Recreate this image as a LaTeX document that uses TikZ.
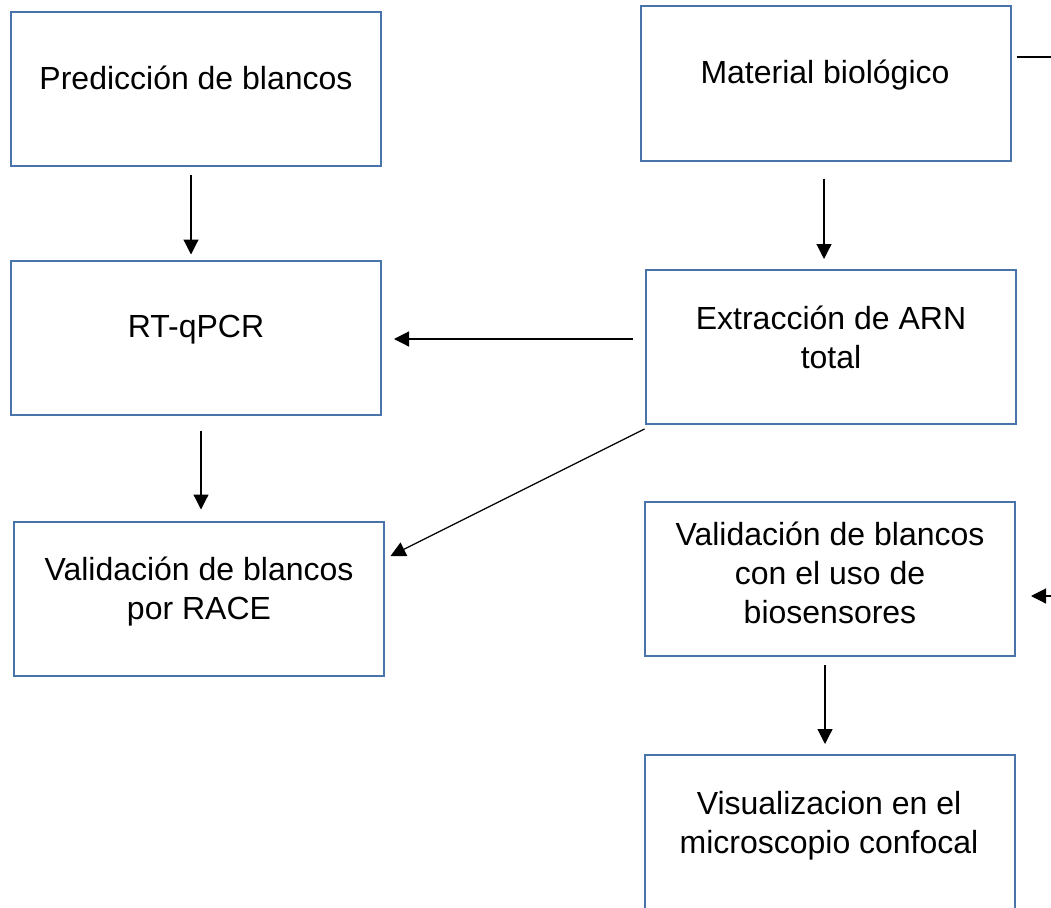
\documentclass[tikz,border=0pt]{standalone}
\usepackage{fontspec}
\setmainfont{Liberation Sans}
\usetikzlibrary{arrows.meta}
\definecolor{boxblue}{RGB}{72,116,170}
\begin{document}
\begin{tikzpicture}[x=1pt,y=-1pt,
  box/.style={draw=boxblue,line width=2pt,minimum width=370pt,minimum height=154pt,inner sep=0pt,anchor=center},
  txt/.style={align=center,inner sep=0pt,font=\fontsize{32}{39}\selectfont},
  arr/.style={draw=black,line width=1.2pt,-{Triangle[length=15pt,width=15pt]}},
  ln/.style={draw=black,line width=1.2pt}]
\useasboundingbox (0,0) rectangle (1051,907);
\begin{scope}
\clip (0,0) rectangle (1051,907);
\node[box] (b1) at (196,89) {};
\node[box] (b2) at (825.5,83.5) {};
\node[box] (b3) at (196,337.5) {};
\node[box] (b4) at (830.5,347) {};
\node[box] (b5) at (198.5,598.5) {};
\node[box] (b6) at (830,579) {};
\node[box] (b7) at (829.5,832) {};
\end{scope}
\node[txt] (t1) at (196,78) {Predicción de blancos};
\node[txt] (t2) at (825,75) {Material biológico};
\node[txt] (t3) at (196,330) {RT-qPCR};
\node[txt] (t4) at (831,337) {Extracción de ARN\\total};
\node[txt] (t5) at (199,592) {Validación de blancos\\por RACE};
\node[txt] (t6) at (830,572.5) {Validación de blancos\\con el uso de\\biosensores};
\node[txt] (t7) at (829,825.5) {Visualizacion en el\\microscopio confocal};
\coordinate (e1) at (1051,57);
\coordinate (e2) at (1051,596);
\coordinate (e2t) at (1031,596);
% connectors
\draw[arr] ([xshift=-5pt,yshift=-8pt]b1.south) -- ([xshift=-5pt,yshift=5pt]b3.north);
\draw[arr] ([xshift=-1.5pt,yshift=-17pt]b2.south) -- ([xshift=-6.5pt,yshift=10pt]b4.north);
\draw[arr] ([xshift=-12pt,yshift=8pt]b4.west) -- ([xshift=12pt,yshift=-1.5pt]b3.east);
\draw[arr] ([xshift=5pt,yshift=-15pt]b3.south) -- ([xshift=2.5pt,yshift=11pt]b5.north);
\draw[arr] ([yshift=-4pt]b4.south west) -- ([xshift=6pt,yshift=42.5pt]b5.east);
\draw[arr] ([xshift=-5pt,yshift=-8pt]b6.south) -- ([xshift=-4.5pt,yshift=10pt]b7.north);
\draw[ln] ([xshift=5pt,yshift=26.5pt]b2.east) -- (e1);
\draw[arr] (e2) -- (e2t);
\end{tikzpicture}
\end{document}
